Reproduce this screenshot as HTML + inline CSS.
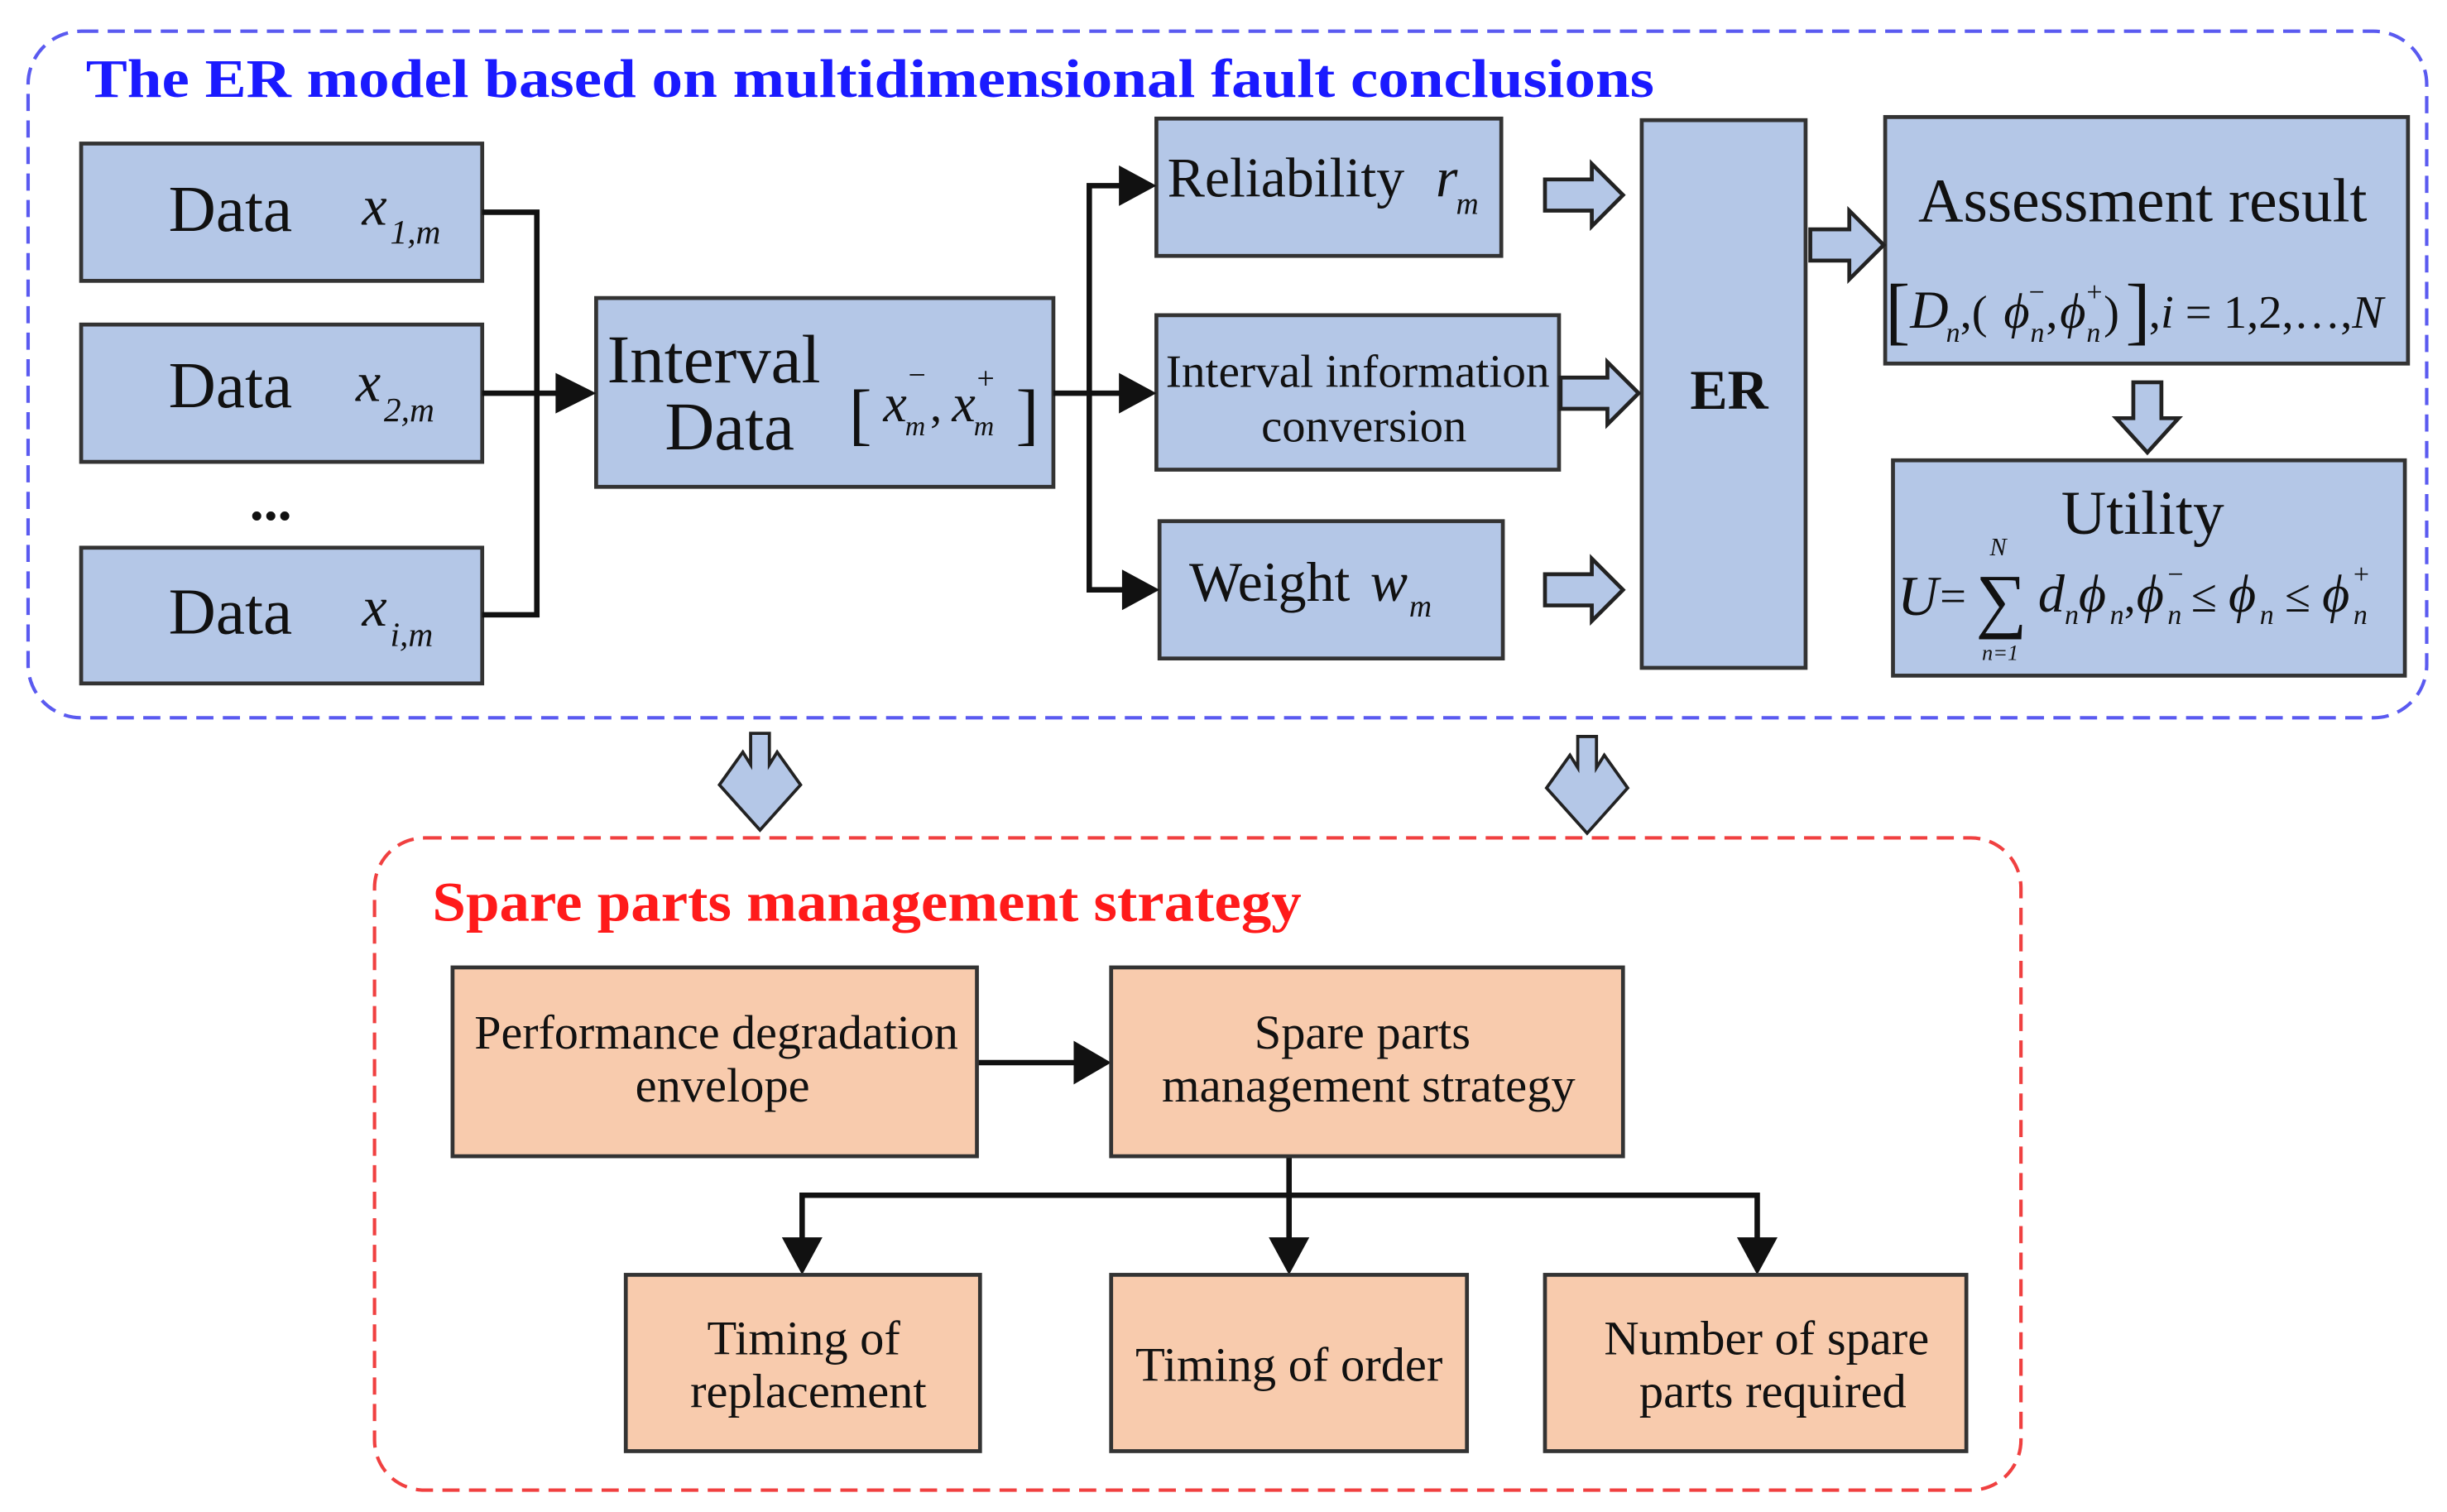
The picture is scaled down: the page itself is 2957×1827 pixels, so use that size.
<!DOCTYPE html>
<html><head><meta charset="utf-8"><style>
html,body{margin:0;padding:0;background:#fff}
svg{display:block}
text{font-family:"Liberation Serif",serif;fill:#111}
</style></head><body>
<svg width="2957" height="1827" viewBox="0 0 1568 969" preserveAspectRatio="none" xmlns="http://www.w3.org/2000/svg">
<!-- blue dashed container -->
<rect x="18" y="20" width="1537" height="440" rx="34" fill="none" stroke="#5a5af0" stroke-width="2.2" stroke-dasharray="11,6"/>
<text x="55" y="62" font-size="35" font-weight="bold" style="fill:#1a1aff" textLength="1005" lengthAdjust="spacingAndGlyphs">The ER model based on multidimensional fault conclusions</text>

<g fill="#b4c7e7" stroke="#333" stroke-width="2.5">
<rect x="52" y="92" width="257" height="88"/>
<rect x="52" y="208" width="257" height="88"/>
<rect x="52" y="351" width="257" height="87"/>
<rect x="382" y="191" width="293" height="121"/>
<rect x="741" y="76" width="221" height="88"/>
<rect x="741" y="202" width="258" height="99"/>
<rect x="743" y="334" width="220" height="88"/>
<rect x="1052" y="77" width="105" height="351"/>
<rect x="1208" y="75" width="335" height="158"/>
<rect x="1213" y="295" width="328" height="138"/>
</g>

<!-- data texts -->
<text x="108" y="148" font-size="42">Data</text>
<text x="232" y="144" font-size="36" font-style="italic">x</text><text x="250" y="156" font-size="22" font-style="italic">1,m</text>
<text x="108" y="261" font-size="42">Data</text>
<text x="228" y="257" font-size="36" font-style="italic">x</text><text x="246" y="270" font-size="22" font-style="italic">2,m</text>
<text x="160" y="333" font-size="36" font-weight="bold">...</text>
<text x="108" y="406" font-size="42">Data</text>
<text x="232" y="401" font-size="36" font-style="italic">x</text><text x="250" y="414" font-size="22" font-style="italic">i,m</text>

<!-- interval data -->
<text x="389" y="245" font-size="44">Interval</text>
<text x="426" y="288" font-size="44">Data</text>
<text x="544" y="280" font-size="44">[</text>
<text x="566" y="270" font-size="34" font-style="italic">x</text><text x="580" y="279" font-size="18" font-style="italic">m</text><text x="582" y="247" font-size="20">−</text>
<text x="596" y="270" font-size="30">,</text>
<text x="610" y="270" font-size="34" font-style="italic">x</text><text x="624" y="279" font-size="18" font-style="italic">m</text><text x="626" y="249" font-size="20">+</text>
<text x="651" y="280" font-size="44">]</text>

<!-- connectors -->
<g stroke="#111" stroke-width="3.5" fill="none">
<polyline points="309,136 344,136 344,394 309,394"/>
<line x1="309" y1="252" x2="358" y2="252"/>
<polyline points="675,252 698,252"/>
<polyline points="721,119 698,119 698,378 721,378"/>
<line x1="698" y1="252" x2="721" y2="252"/>
<line x1="626" y1="681" x2="692" y2="681"/>
<polyline points="826,741 826,766"/>
<polyline points="514,795 514,766 1126,766 1126,795"/>
<line x1="826" y1="766" x2="826" y2="795"/>
</g>
<g fill="#111">
<polygon points="356,239 382,252 356,265"/>
<polygon points="717,106 741,119 717,132"/>
<polygon points="717,239 741,252 717,265"/>
<polygon points="719,365 743,378 719,391"/>
<polygon points="688,667 712,681 688,695"/>
<polygon points="501,793 527,793 514,817"/>
<polygon points="813,793 839,793 826,817"/>
<polygon points="1113,793 1139,793 1126,817"/>
</g>

<!-- middle texts -->
<text x="748" y="126" font-size="36">Reliability</text>
<text x="920" y="126" font-size="36" font-style="italic">r</text>
<text x="933" y="137" font-size="20" font-style="italic">m</text>
<text x="870" y="248" font-size="30" text-anchor="middle" textLength="246" lengthAdjust="spacingAndGlyphs">Interval information</text>
<text x="874" y="283" font-size="30" text-anchor="middle">conversion</text>
<text x="762" y="385" font-size="36">Weight</text>
<text x="878" y="385" font-size="36" font-style="italic">w</text>
<text x="903" y="395" font-size="20" font-style="italic">m</text>
<text x="1108" y="262" font-size="36" font-weight="bold" text-anchor="middle">ER</text>

<!-- hollow arrows -->
<g fill="#b4c7e7" stroke="#222" stroke-width="2.5">
<polygon points="990,115 1020,115 1020,105 1040,125 1020,145 1020,135 990,135"/>
<polygon points="1000,242 1030,242 1030,232 1050,252 1030,272 1030,262 1000,262"/>
<polygon points="990,368 1020,368 1020,358 1040,378 1020,398 1020,388 990,388"/>
<polygon points="1160,147 1185,147 1185,135 1207,157 1185,179 1185,167 1160,167"/>
<polygon points="1367,245 1385,245 1385,268 1396,268 1376,290 1356,268 1367,268"/>
</g>
<!-- down arrows between containers -->
<g fill="#b4c7e7" stroke="#222" stroke-width="2">
<polygon points="481,470 493,470 493,490 498,482 513,503 487,532 461,503 476,482 481,490"/>
<polygon points="1011,472 1023,472 1023,492 1028,484 1043,505 1017,534 991,505 1006,484 1011,492"/>
</g>

<!-- assessment -->
<text x="1373" y="142" font-size="40" text-anchor="middle">Assessment result</text>
<text x="1208" y="215" font-size="48">[</text>
<text x="1224" y="210" font-size="34" font-style="italic">D</text><text x="1247" y="219" font-size="18" font-style="italic">n</text>
<text x="1256" y="210" font-size="30">,(</text>
<text x="1284" y="210" font-size="32" font-style="italic">ϕ</text><text x="1301" y="219" font-size="18" font-style="italic">n</text><text x="1300" y="193" font-size="18">−</text>
<text x="1311" y="210" font-size="30">,</text>
<text x="1320" y="210" font-size="32" font-style="italic">ϕ</text><text x="1337" y="219" font-size="18" font-style="italic">n</text><text x="1337" y="193" font-size="18">+</text>
<text x="1348" y="210" font-size="30">)</text>
<text x="1362" y="215" font-size="48">]</text>
<text x="1377" y="210" font-size="30">,<tspan font-style="italic">i</tspan> = 1,2,…,<tspan font-style="italic">N</tspan></text>

<!-- utility -->
<text x="1373" y="342" font-size="40" text-anchor="middle">Utility</text>
<text x="1216" y="394" font-size="36" font-style="italic">U</text>
<text x="1243" y="392" font-size="30">=</text>
<text x="1266" y="400" font-size="46">∑</text>
<text x="1275" y="356" font-size="16" font-style="italic">N</text>
<text x="1270" y="423" font-size="14" font-style="italic">n=1</text>
<text x="1306" y="392" font-size="34" font-style="italic">d</text><text x="1323" y="400" font-size="18" font-style="italic">n</text>
<text x="1332" y="392" font-size="34" font-style="italic">ϕ</text><text x="1352" y="400" font-size="18" font-style="italic">n</text>
<text x="1361" y="392" font-size="30">,</text>
<text x="1369" y="392" font-size="34" font-style="italic">ϕ</text><text x="1389" y="400" font-size="18" font-style="italic">n</text><text x="1389" y="374" font-size="18">−</text>
<text x="1404" y="392" font-size="30">≤</text>
<text x="1428" y="392" font-size="34" font-style="italic">ϕ</text><text x="1448" y="400" font-size="18" font-style="italic">n</text>
<text x="1464" y="392" font-size="30">≤</text>
<text x="1488" y="392" font-size="34" font-style="italic">ϕ</text><text x="1508" y="400" font-size="18" font-style="italic">n</text><text x="1508" y="374" font-size="18">+</text>

<!-- red container -->
<rect x="240" y="537" width="1055" height="418" rx="32" fill="none" stroke="#f04040" stroke-width="2.2" stroke-dasharray="11,6"/>
<text x="277" y="590" font-size="36" font-weight="bold" style="fill:#ff1a1a" textLength="557" lengthAdjust="spacingAndGlyphs">Spare parts management strategy</text>

<g fill="#f8cbad" stroke="#333" stroke-width="2.5">
<rect x="290" y="620" width="336" height="121"/>
<rect x="712" y="620" width="328" height="121"/>
<rect x="401" y="817" width="227" height="113"/>
<rect x="712" y="817" width="228" height="113"/>
<rect x="990" y="817" width="270" height="113"/>
</g>
<g font-size="31" text-anchor="middle">
<text x="459" y="672" textLength="310" lengthAdjust="spacingAndGlyphs">Performance degradation</text>
<text x="463" y="706">envelope</text>
<text x="873" y="672">Spare parts</text>
<text x="877" y="706" textLength="265" lengthAdjust="spacingAndGlyphs">management strategy</text>
<text x="515" y="868">Timing of</text>
<text x="518" y="902">replacement</text>
<text x="826" y="885">Timing of order</text>
<text x="1132" y="868">Number of spare</text>
<text x="1136" y="902">parts required</text>
</g>
</svg>
</body></html>
